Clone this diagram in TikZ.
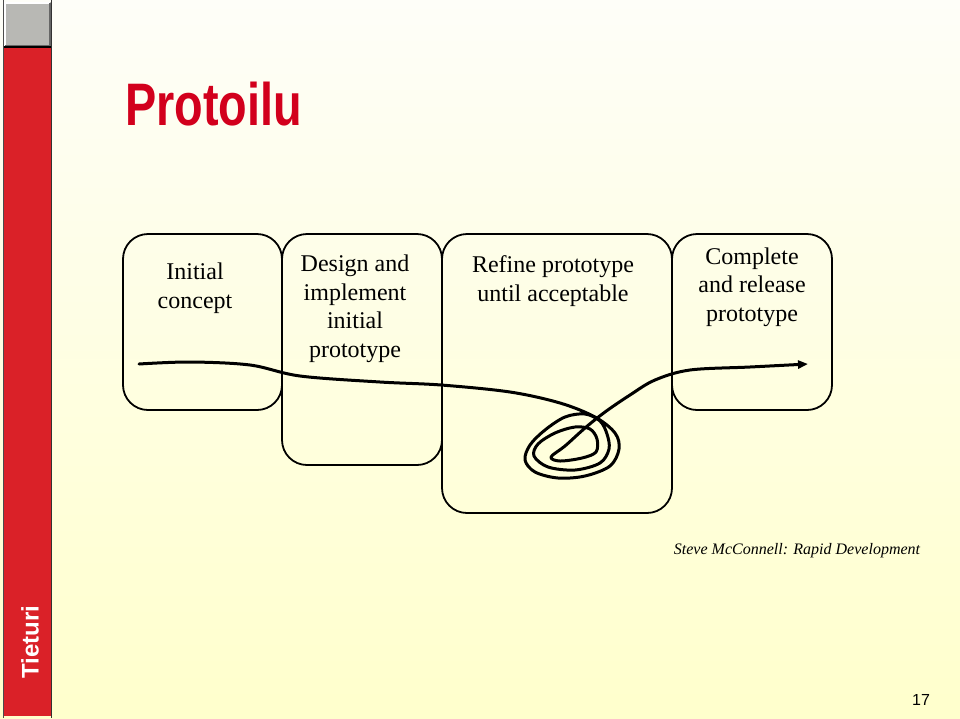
\documentclass[tikz,border=0pt]{standalone}
\usepackage{fontspec}
\setmainfont{Liberation Serif}
\newfontfamily\arial{Liberation Sans}
\usetikzlibrary{arrows.meta}
\definecolor{barred}{RGB}{218,33,40}
\definecolor{titlered}{RGB}{210,0,28}
\definecolor{bgtop}{RGB}{254,254,248}
\definecolor{bgbot}{RGB}{255,255,204}
\definecolor{sqgray}{RGB}{184,184,180}
\tikzset{
  stagebox/.style={draw=black, line width=1.8pt, rounded corners=25pt, inner sep=0pt},
  stagetext/.style={align=center, font=\fontsize{24}{28.5}\selectfont, inner sep=0pt},
  flow/.style={line width=3pt, line cap=round, line join=round},
}
\begin{document}
\begin{tikzpicture}[x=1pt,y=-1pt]
\useasboundingbox (0,0) rectangle (960,718);
% background
\shade[top color=bgtop, bottom color=bgbot, shading angle=0] (0,0) rectangle (960,718);
% left bar
\fill[barred] (4,47) rectangle (51,716);
\fill[sqgray] (4,2) rectangle (51,47);
\draw[white, line width=1.5pt] (5,46) -- (5,3) -- (50,3);
\draw[black!60, line width=1.5pt] (50,3) -- (50,46) -- (5,46);
\draw[black, line width=1.2pt] (4,47) -- (51,47);
\draw[black!80, line width=1.5pt] (51.5,0) -- (51.5,718);
\draw[black!70, line width=1pt] (3.5,0) -- (3.5,718);
\node[rotate=90, text=white, font=\arial\bfseries\fontsize{24}{24}\selectfont, inner sep=0pt] (brand) at (30,642) {Tieturi};
% title
\node[anchor=base west, text=titlered, font=\arial\bfseries\fontsize{60}{60}\selectfont, inner sep=0pt, xscale=0.78] (title) at (125,125) {Protoilu};
% boxes
\node[stagebox, minimum width=159pt, minimum height=176pt] (b1) at (202.5,322) {};
\node[stagebox, minimum width=160pt, minimum height=231pt] (b2) at (362,349.5) {};
\node[stagebox, minimum width=230pt, minimum height=279pt] (b3) at (557,373.5) {};
\node[stagebox, minimum width=160pt, minimum height=176pt] (b4) at (752,322) {};
% texts
\node[stagetext] (t1) at (195,288) {Initial\\concept};
\node[stagetext] (t2) at (355,309) {Design and\\implement\\initial\\prototype};
\node[stagetext] (t3) at (553,281) {Refine prototype\\until acceptable};
\node[stagetext] (t4) at (752,287) {Complete\\and release\\prototype};
% flow
\coordinate (start) at (139,364);
\coordinate (finish) at (808,364);
\draw[flow, -{Triangle[length=10pt,width=8pt]}] plot[smooth, tension=0.55] coordinates {
  (start) (190,362) (250,365) (300,376) (380,382) (441,385) (510,392) (560,403) (595,417) (615,433)
  (619,449) (610,466) (585,476) (558,478) (535,472) (525,460) (530,445) (545,430) (565,417) (585,414) (600,421)
  (607,434) (609,449) (600,463) (575,470) (548,467) (534,456) (538,444) (555,433) (575,427) (590,429)
  (597,439) (596,452) (582,458) (560,461) (551,457)
  (565,446) (585,428) (605,412) (630,395) (655,380) (690,370) (750,367) (finish)};
% citation and page number
\node[font=\itshape\fontsize{16}{16}\selectfont, inner sep=0pt] (cite) at (797,551) {Steve McConnell: Rapid Development};
\node[font=\arial\fontsize{16}{16}\selectfont, inner sep=0pt] (page) at (921,700) {17};
\end{tikzpicture}
\end{document}
